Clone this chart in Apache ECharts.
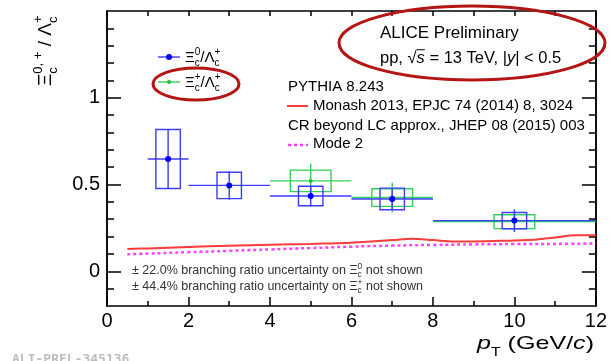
<!DOCTYPE html>
<html>
<head>
<meta charset="utf-8">
<script src="https://cdn.jsdelivr.net/npm/echarts@6/dist/echarts.min.js"></script>
<style>
html,body{margin:0;padding:0;background:#fff;}
#c{width:610px;height:361px;}
</style>
</head>
<body>
<div id="c"></div>
<script>
// ---------- data ----------
const xi0Pt    = [1.5, 3, 5, 7, 10];
const xi0Val   = [0.647, 0.495, 0.434, 0.417, 0.292];
const xi0BinLo = [1, 2, 4, 6, 8];
const xi0BinHi = [2, 4, 6, 8, 12];
const xi0Stat  = [0.17, 0.082, 0.06, 0.06, 0.065];
const xi0Syst  = [0.17, 0.076, 0.056, 0.062, 0.047];

const xiPPt    = [5, 7, 10];
const xiPVal   = [0.521, 0.425, 0.286];
const xiPBinLo = [4, 6, 8];
const xiPBinHi = [6, 8, 12];
const xiPStat  = [0.10, 0.085, 0.06];
const xiPSyst  = [0.062, 0.051, 0.04];

const monashX = [0.5, 1, 2, 3, 4, 5, 6, 7, 7.5, 8, 8.5, 9, 10, 10.5, 11, 11.5, 12];
const monashY = [0.128, 0.132, 0.140, 0.147, 0.153, 0.158, 0.165, 0.180, 0.188, 0.180, 0.172, 0.172, 0.178, 0.182, 0.195, 0.208, 0.207];
const mode2X  = [0.5, 1, 2, 3, 4, 5, 6, 7, 8, 9, 10, 11, 12];
const mode2Y  = [0.098, 0.102, 0.110, 0.118, 0.126, 0.134, 0.142, 0.148, 0.152, 0.155, 0.157, 0.158, 0.160];

const xTickLabels = [0, 2, 4, 6, 8, 10, 12];
const yLabelValues = [0, 0.5, 1];
const yMajorTicks = [0, 0.5, 1];
const yMinorTicks = [-0.1, 0.1, 0.2, 0.3, 0.4, 0.6, 0.7, 0.8, 0.9, 1.1, 1.2, 1.3, 1.4];

// ---------- helpers ----------
const FF = '"Liberation Sans", Arial, sans-serif';
const mctx = document.createElement('canvas').getContext('2d');
function fontStr(size, italic, bold, fam) { return (italic ? 'italic ' : '') + (bold ? 'bold ' : '') + size + 'px ' + (fam || FF); }
function mw(t, size, italic) { mctx.font = fontStr(size, italic); return mctx.measureText(t).width; }
function txt(x, y, t, size, italic, color) {
  return { type: 'text', x: x, y: y, style: { text: t, font: fontStr(size, italic), fill: color || '#000',
    align: 'left', verticalAlign: 'middle', textAlign: 'left', textVerticalAlign: 'middle' } };
}
function layout(parts, color) {
  let x = 0; const ch = [];
  for (const p of parts) {
    if (p.stack) {
      let m = 0;
      for (const s of p.stack) { ch.push(txt(x, s.dy, s.t, s.size, s.italic, color)); m = Math.max(m, mw(s.t, s.size, s.italic)); }
      x += m;
    } else {
      ch.push(txt(x, p.dy || 0, p.t, p.size, p.italic, color));
      const ww = mw(p.t, p.size, p.italic);
      if (p.over) ch.push({ type: 'line', shape: { x1: x, y1: -p.size * 0.5, x2: x + ww, y2: -p.size * 0.5 }, style: { stroke: color || '#000', lineWidth: 1 } });
      x += ww;
    }
  }
  return ch;
}
function grp(x, y, parts, opts) {
  opts = opts || {};
  return { type: 'group', x: x, y: y, rotation: opts.rotation || 0, scaleX: opts.scaleX || 1, children: layout(parts, opts.color), z: 100 };
}
function xiName(sup, main, sub, dSub, dSup) {
  return [{ t: 'Ξ', size: main }, { stack: [{ t: 'c', size: sub, dy: dSub }, { t: sup, size: sub, dy: dSup }] },
          { t: '/Λ', size: main }, { stack: [{ t: 'c', size: sub, dy: dSub }, { t: '+', size: sub, dy: dSup }] }];
}

// ---------- series render ----------
function makeRender(color, pointColor, half, r) {
  return function (params, api) {
    const pt = api.value(0), v = api.value(1), lo = api.value(2), hi = api.value(3), st = api.value(4), sy = api.value(5);
    const c = api.coord([pt, v]);
    const l = api.coord([lo, v]), h = api.coord([hi, v]);
    const s1 = api.coord([pt, v + st]), s2 = api.coord([pt, v - st]);
    const b1 = api.coord([pt - half, v + sy]), b2 = api.coord([pt + half, v - sy]);
    const ls = { stroke: color, lineWidth: 1.4, fill: null };
    return { type: 'group', children: [
      { type: 'rect', shape: { x: b1[0], y: b1[1], width: b2[0] - b1[0], height: b2[1] - b1[1] }, style: { stroke: color, lineWidth: 1.4, fill: null } },
      { type: 'line', shape: { x1: l[0], y1: c[1], x2: h[0], y2: c[1] }, style: ls },
      { type: 'line', shape: { x1: c[0], y1: s1[1], x2: c[0], y2: s2[1] }, style: ls },
      { type: 'circle', shape: { cx: c[0], cy: c[1], r: r }, style: { fill: pointColor } }
    ] };
  };
}
const xi0Data = xi0Pt.map((p, i) => [p, xi0Val[i], xi0BinLo[i], xi0BinHi[i], xi0Stat[i], xi0Syst[i]]);
const xiPData = xiPPt.map((p, i) => [p, xiPVal[i], xiPBinLo[i], xiPBinHi[i], xiPStat[i], xiPSyst[i]]);
const monashData = monashX.map((x, i) => [x, monashY[i]]);
const mode2Data = mode2X.map((x, i) => [x, mode2Y[i]]);

const BLUE = '#3c3cff', GREEN = '#33d05a', RED = '#ff3b3b', MAG = '#ff40ff';
const axisLineStyle = { color: '#000', width: 1.5 };

function yAx(pos, ticks, len, labels) {
  return {
    type: 'value', min: -0.2, max: 1.5, position: pos,
    axisLine: { show: true, onZero: false, lineStyle: axisLineStyle },
    axisTick: { show: true, inside: true, length: len, customValues: ticks, lineStyle: { color: '#000', width: 1.5 } },
    axisLabel: labels ? { show: true, customValues: yLabelValues, fontSize: 20, fontFamily: FF, color: '#000', margin: 7,
      formatter: v => String(Math.round(v * 10) / 10) } : { show: false },
    splitLine: { show: false }
  };
}

const option = {
  backgroundColor: '#fff',
  animation: false,
  grid: { left: 107, right: 10, top: 11, bottom: 55 },
  xAxis: [
    { type: 'value', min: 0, max: 12, interval: 2, position: 'bottom',
      axisLine: { onZero: false, lineStyle: axisLineStyle },
      axisTick: { inside: true, length: 9, lineStyle: { color: '#000', width: 1.5 } },
      minorTick: { show: true, splitNumber: 2, length: 5, lineStyle: { color: '#000', width: 1.5 } },
      axisLabel: { fontSize: 20, fontFamily: FF, color: '#000', margin: 5,
        formatter: v => (xTickLabels.indexOf(v) >= 0 ? String(v) : '') },
      splitLine: { show: false } },
    { type: 'value', min: 0, max: 12, interval: 1, position: 'top',
      axisLine: { onZero: false, lineStyle: axisLineStyle },
      axisTick: { inside: true, length: 5, lineStyle: { color: '#000', width: 1.5 } },
      axisLabel: { show: false }, splitLine: { show: false } }
  ],
  yAxis: [
    yAx('left', yMajorTicks, 14, true),
    yAx('left', yMinorTicks, 7, false),
    yAx('right', yMajorTicks, 14, false),
    yAx('right', yMinorTicks, 7, false)
  ],
  series: [
    { type: 'line', name: 'Monash', data: monashData, smooth: 0.4, showSymbol: false, xAxisIndex: 0, yAxisIndex: 0,
      lineStyle: { color: RED, width: 2 }, z: 2 },
    { type: 'line', name: 'Mode 2', data: mode2Data, smooth: 0.4, showSymbol: false, xAxisIndex: 0, yAxisIndex: 0,
      lineStyle: { color: MAG, width: 2.5, type: [3, 3] }, z: 2 },
    { type: 'custom', name: 'XiP', data: xiPData, xAxisIndex: 0, yAxisIndex: 0, encode: { x: 0, y: 1 },
      renderItem: makeRender(GREEN, '#1fc040', 0.5, 2), z: 3 },
    { type: 'custom', name: 'Xi0', data: xi0Data, xAxisIndex: 0, yAxisIndex: 0, encode: { x: 0, y: 1 },
      renderItem: makeRender(BLUE, '#0000ff', 0.3, 3), z: 4 }
  ],
  graphic: { elements: [
    // top-right label
    grp(380, 33, [{ t: 'ALICE Preliminary', size: 17 }]),
    grp(380, 58, [{ t: 'pp, ', size: 16.5 }, { t: '√', size: 16.5 }, { t: 's', size: 16.5, italic: true, over: true },
                  { t: ' = 13 TeV, |', size: 16.5 }, { t: 'y', size: 16.5, italic: true }, { t: '| < 0.5', size: 16.5 }]),
    { type: 'ellipse', shape: { cx: 472, cy: 43, rx: 133, ry: 37 }, style: { fill: null, stroke: '#b51414', lineWidth: 3 }, z: 100 },
    // PYTHIA block
    grp(288, 87, [{ t: 'PYTHIA 8.243', size: 15 }]),
    { type: 'line', shape: { x1: 287, y1: 106, x2: 308, y2: 106 }, style: { stroke: RED, lineWidth: 2 }, z: 100 },
    grp(313, 106, [{ t: 'Monash 2013, EPJC 74 (2014) 8, 3024', size: 15 }]),
    grp(288, 126, [{ t: 'CR beyond LC approx., JHEP 08 (2015) 003', size: 15 }]),
    { type: 'line', shape: { x1: 288, y1: 145, x2: 308, y2: 145 }, style: { stroke: MAG, lineWidth: 2.5, lineDash: [3, 3] }, z: 100 },
    grp(313, 144, [{ t: 'Mode 2', size: 15 }]),
    // legend
    { type: 'line', shape: { x1: 158, y1: 57, x2: 180, y2: 57 }, style: { stroke: BLUE, lineWidth: 1.4 }, z: 100 },
    { type: 'circle', shape: { cx: 169, cy: 57, r: 3 }, style: { fill: '#0000ff' }, z: 100 },
    grp(185, 58, xiName('0', 15, 10, 5, -6)),
    { type: 'line', shape: { x1: 158, y1: 82, x2: 180, y2: 82 }, style: { stroke: GREEN, lineWidth: 1.4 }, z: 100 },
    { type: 'circle', shape: { cx: 169, cy: 82, r: 2 }, style: { fill: '#1fc040' }, z: 100 },
    grp(185, 83, xiName('+', 15, 10, 5, -6)),
    { type: 'ellipse', shape: { cx: 196, cy: 84, rx: 43, ry: 16 }, style: { fill: null, stroke: '#b51414', lineWidth: 3 }, z: 100 },
    // notes
    grp(132, 271, [{ t: '± 22.0% branching ratio uncertainty on ', size: 12.5 }, { t: 'Ξ', size: 12.5 },
                   { stack: [{ t: 'c', size: 8.5, dy: 4 }, { t: '0', size: 8.5, dy: -4 }] }, { t: ' not shown', size: 12.5 }], { color: '#333' }),
    grp(132, 287, [{ t: '± 44.4% branching ratio uncertainty on ', size: 12.5 }, { t: 'Ξ', size: 12.5 },
                   { stack: [{ t: 'c', size: 8.5, dy: 4 }, { t: '+', size: 8.5, dy: -4 }] }, { t: ' not shown', size: 12.5 }], { color: '#333' }),
    // y axis title (rotated)
    grp(46, 86, [{ t: 'Ξ', size: 19 }, { stack: [{ t: 'c', size: 13, dy: 7 }, { t: '0, +', size: 13, dy: -8 }] },
                 { t: ' / ', size: 19 }, { t: 'Λ', size: 19 }, { stack: [{ t: 'c', size: 13, dy: 7 }, { t: '+', size: 13, dy: -8 }] }],
        { rotation: Math.PI / 2 }),
    // x axis title
    grp(477, 344, [{ t: 'p', size: 19, italic: true }, { stack: [{ t: 'T', size: 12, dy: 9 }] },
                   { t: ' (GeV/', size: 19 }, { t: 'c', size: 19, italic: true }, { t: ')', size: 19 }], { scaleX: 1.32 }),
    // watermark
    { type: 'text', x: 12, y: 353, z: 100, style: { text: 'ALI-PREL-345136', font: 'bold 13px "DejaVu Sans Mono", monospace', fill: '#bdbdbd',
      align: 'left', verticalAlign: 'top', textAlign: 'left', textVerticalAlign: 'top' } }
  ] }
};

const chart = echarts.init(document.getElementById('c'), null, { renderer: 'canvas' });
chart.setOption(option);
</script>
</body>
</html>
